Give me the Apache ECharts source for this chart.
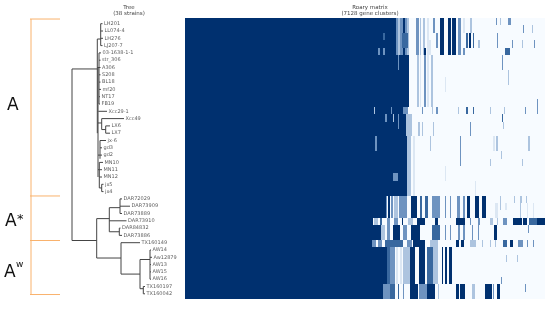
<!DOCTYPE html>
<html><head><meta charset="utf-8">
<style>html,body{margin:0;padding:0;background:#fff}#c{width:550px;height:318px}</style>
<script src="https://cdn.jsdelivr.net/npm/echarts@6/dist/echarts.min.js"></script>
</head><body><div id="c"></div>
<script>
const strains = ['LH201','LL074-4','LH276','LJ207-7','03-1638-1-1','str_306','A306','S208','BL18','mf20','NT17','FB19','Xcc29-1','Xcc49','LX6','LX7','jx-6','gd3','gd2','MN10','MN11','MN12','jx5','jx4','DAR72029','DAR73909','DAR73889','DAR73910','DAR84832','DAR73886','TX160149','AW14','Aw12879','AW13','AW15','AW16','TX160197','TX160042'];
// tree: tip distance and parent-node distance of each strain
const tipDist = [30.5,31,31,30.5,29,28.5,28.5,28.5,28.5,29,28,28,35,52,38,38,34,30,30,31,30,30,31.5,31.5,50,58,50,54.5,48.5,50,68,79,80,79,79,79,73,73];
const tipParent = [28.7,28.7,28.7,28.7,27,27,27,27,27,27,27,27,26.3,29.7,33.7,33.7,28,28,28,27.3,27.3,27.3,29.7,29.7,48,48,48,37.3,47.3,47.3,49,78,78,78,78,78,71.3,71.3];
// inner branches: [row, fromDist, toDist]
const innerH = [[6.2,0,25.3],[29.7,0,24.7],[2.1,25.3,28.7],[6,25.3,27],[13.6,26,29.7],[14.5,29.7,33.7],[18,26,28],[20,26,27.3],[22.5,27.3,29.7],[26.7,24.7,37.3],[25.2,37.3,48],[28.5,37.3,47.3],[32.1,24.7,49],[34.3,49,68],[32.3,68,78],[36.3,68,71.3]];
// inner verticals: [dist, rowFrom, rowTo]
const innerV = [[0,6.2,29.7],[25.3,2.1,15],[26,6,21],[28.7,0,3],[27,4,11],[29.7,13,14.5],[33.7,14,15],[28,16,18.5],[27.3,19,22.5],[29.7,22,23],[24.7,26.7,32.1],[37.3,25.2,28.5],[48,24,26],[47.3,28,29],[49,30,34.3],[68,32.3,36.3],[78,31,35],[71.3,36,37]];
// clade brackets: [rowFrom, rowTo, shade]
const bracketRows = [-0.64,23.6,29.7,37.1];
// Roary matrix
const levels = ['#f7fbff','#dce7f3','#adc4df','#6e93c0','#39689f','#00306f'];
const coreEnd = [78,78,78,78,78,116,116,116,116,116,116,116,100,108,108,108,110,110,112,112,112,112,112,112,48,48,48,8,33,33,5,50,50,50,50,50,38,38];
// stripes: [colFrom, colTo, rowFrom, rowTo, level]
const stripes = [
[78,84,0,5,3],[84,90,0,5,2],[90,100,0,5,3],[100,104,0,5,5],[104,112,0,5,3],[112,118,0,5,2],[95,115,2,4,4],[40,45,2,3,4],[25,30,4,5,3],[40,45,4,5,3],[85,88,5,7,3],
[138,146,0,5,3],[150,154,0,5,2],[160,166,0,5,2],[172,176,0,5,1],[190,194,0,2,3],[198,204,2,4,3],[178,184,3,5,1],[210,222,0,5,5],[233,243,0,5,5],[245,258,0,5,5],[265,272,0,5,3],[280,286,4,5,3],[280,286,0,2,1],[288,294,2,4,4],[300,306,0,2,2],[298,303,2,4,5],[308,312,2,4,4],[325,330,3,4,2],[378,381,0,1,3],[390,393,0,1,2],[415,422,0,1,3],[458,461,1,2,3],[485,488,1,2,2],[380,383,2,4,3],[425,428,3,4,3],[455,458,3,4,2],[491,494,3,4,3],[405,420,4,5,4],[395,398,5,7,3],[415,417,7,9,2],[225,227,8,10,1],
[140,146,5,12,2],[150,154,5,12,1],[163,168,5,12,3],[172,176,5,12,1],[182,190,5,12,2],[162,168,4,5,5],[12,15,12,13,2],[62,65,12,13,3],
[100,115,12,13,3],[155,158,12,13,3],[185,188,12,13,2],[198,204,12,13,3],[265,267,12,13,2],[288,295,12,13,4],[308,312,12,13,4],[360,362,12,13,2],[403,405,12,13,2],[465,467,12,13,3],[502,504,11,13,3],
[45,50,13,14,3],[70,73,13,14,2],[85,88,13,15,3],[395,398,13,14,4],[108,125,13,16,2],[145,150,14,16,2],[155,160,14,16,2],[190,193,14,16,2],[300,303,14,16,3],[398,400,14,15,2],
[15,20,16,18,3],[112,122,16,24,2],[180,183,16,18,2],[270,272,16,20,3],[370,375,16,18,1],[378,383,16,18,2],[475,479,16,18,2],[392,394,18,19,2],[130,136,16,24,1],
[360,362,19,20,2],[455,457,19,20,2],[225,227,20,22,1],[70,85,21,22,3],[315,317,22,24,1],
[48,52,24,27,3],[55,60,24,27,5],[62,70,24,27,3],[72,85,24,27,2],[88,92,24,27,3],[92,110,24,27,3],[122,140,24,27,5],[150,156,24,27,4],[165,175,24,27,4],[185,210,24,27,3],[225,228,24,27,3],[240,243,24,27,3],[262,270,24,27,3],[278,285,24,27,3],[292,300,24,27,5],[315,328,24,27,5],[335,347,24,27,5],[390,392,24,26,2],[432,434,24,25,2],[450,455,24,25,2],[467,470,24,25,2],[375,383,25,27,1],[405,410,25,26,1],[450,453,25,27,2],[470,473,25,27,1],[488,491,25,27,1],
[12,25,27,28,2],[30,35,27,28,4],[50,60,27,28,3],[72,85,27,28,3],[95,100,27,28,5],[115,130,27,28,2],[140,165,27,28,5],[195,205,27,28,5],[258,285,27,28,5],[300,303,27,28,3],[325,330,27,28,3],[360,370,27,28,2],[380,384,27,28,2],[400,410,27,28,3],[430,455,27,28,5],[460,470,27,28,5],[478,500,27,28,4],[500,525,27,28,5],
[33,45,28,30,2],[50,60,28,30,3],[70,90,28,30,5],[100,110,28,30,3],[122,150,28,30,5],[185,210,28,30,4],[225,228,28,30,3],[240,243,28,30,3],[265,270,28,30,3],[280,285,28,30,3],[305,308,28,30,3],[325,328,28,30,3],[372,382,28,30,5],[475,478,28,29,3],
[5,18,30,31,3],[25,35,30,31,3],[45,100,30,31,4],[110,125,30,31,3],[130,165,30,31,5],[180,205,30,31,2],[258,268,30,31,5],[272,282,30,31,5],[300,318,30,31,2],[335,338,30,31,2],[360,363,30,31,2],[375,378,30,31,2],[400,410,30,31,4],[420,430,30,31,5],[445,460,30,31,3],[470,474,30,31,3],[490,493,30,31,3],
[50,60,31,36,4],[60,75,31,36,3],[78,84,31,36,1],[90,96,31,36,1],[100,120,31,36,2],[120,135,31,36,5],[147,165,31,36,5],[170,190,31,36,4],[190,205,31,36,2],[215,220,31,36,5],[225,232,31,36,5],[238,245,31,36,5],[408,410,32,33,2],[442,444,32,33,2],[393,395,35,36,3],
[38,60,36,38,3],[60,75,36,38,4],[85,88,36,38,4],[100,103,36,38,3],[120,145,36,38,5],[147,170,36,38,3],[172,195,36,38,5],[205,208,36,38,2],[258,268,36,38,5],[270,285,36,38,5],[305,315,36,38,2],[345,365,36,38,5],[370,372,36,38,3],[382,390,36,38,5],[465,468,36,37,3]
];

const rects = [[-555,525,0,38,0]]
  .concat(coreEnd.map((e,r)=>[-555,e,r,r+1,5]))
  .concat(stripes);
const segs = [];
strains.forEach((s,i)=>segs.push([tipParent[i],i,tipDist[i],i]));
innerH.forEach(h=>segs.push([h[1],h[0],h[2],h[0]]));
innerV.forEach(v=>segs.push([v[0],v[1],v[0],v[2]]));
const orangeV=[[-41,bracketRows[0],-41,bracketRows[3]]];
const orangeH=bracketRows.map(r=>[-42,r,-12,r]);

const chart = echarts.init(document.getElementById('c'),null,{renderer:'canvas'});
chart.setOption({
 animation:false,
 title:[
  {text:'Tree\n(38 strains)',left:124,top:0,textAlign:'center',textStyle:{fontFamily:'DejaVu Sans',fontSize:5.5,fontWeight:'normal',color:'#444',lineHeight:6}},
  {text:'Roary matrix\n(7128 gene clusters)',left:365,top:0,textAlign:'center',textStyle:{fontFamily:'DejaVu Sans',fontSize:5.5,fontWeight:'normal',color:'#444',lineHeight:6}}
 ],
 grid:[
  {left:185,top:18,width:360,height:281.3},
  {left:30,top:16.4,width:155,height:284.7}
 ],
 xAxis:[
  {type:'value',gridIndex:0,min:-555,max:525,show:false},
  {type:'value',gridIndex:1,min:-42,max:113,show:false}
 ],
 yAxis:[
  {type:'value',gridIndex:0,min:0,max:38,inverse:true,show:false},
  {type:'value',gridIndex:1,min:-1,max:38,inverse:true,show:false}
 ],
 series:[
  {type:'custom',xAxisIndex:0,yAxisIndex:0,data:rects,silent:true,
   renderItem:(p,api)=>{const a=api.coord([api.value(0),api.value(2)]),b=api.coord([api.value(1),api.value(3)]);
    const x=Math.round(a[0]),y=Math.round(a[1]);
    return {type:'rect',shape:{x:x,y:y,width:Math.max(1,Math.round(b[0])-x),height:Math.round(b[1])-y},style:{fill:levels[api.value(4)]}};}},
  {type:'custom',xAxisIndex:1,yAxisIndex:1,data:segs,silent:true,
   renderItem:(p,api)=>{const a=api.coord([api.value(0),api.value(1)]),b=api.coord([api.value(2),api.value(3)]);
    return {type:'line',shape:{x1:a[0],y1:a[1],x2:b[0],y2:b[1]},style:{stroke:'#444',lineWidth:1}};}},
  {type:'custom',xAxisIndex:1,yAxisIndex:1,data:orangeH.concat(orangeV),silent:true,
   renderItem:(p,api)=>{const a=api.coord([api.value(0),api.value(1)]),b=api.coord([api.value(2),api.value(3)]);
    return {type:'line',shape:{x1:a[0],y1:a[1],x2:b[0],y2:b[1]},style:{stroke:'#f9b26d',lineWidth:1}};}},
  {type:'scatter',xAxisIndex:1,yAxisIndex:1,symbolSize:0,silent:true,
   data:strains.map((s,i)=>({name:s,value:[tipDist[i],i]})),
   label:{show:true,position:'right',distance:1.5,formatter:'{b}',fontFamily:'DejaVu Sans',fontSize:5,color:'#333'}}
 ],
 graphic:[
  {type:'text',left:7,top:97,style:{text:'A',fontFamily:'DejaVu Sans',fontSize:17,fill:'#111'}},
  {type:'text',left:5,top:213,style:{text:'A',fontFamily:'DejaVu Sans',fontSize:17,fill:'#111'}},
  {type:'text',left:17,top:213,style:{text:'*',fontFamily:'DejaVu Sans',fontSize:13,fill:'#111'}},
  {type:'text',left:4,top:264,style:{text:'A',fontFamily:'DejaVu Sans',fontSize:17,fill:'#111'}},
  {type:'text',left:16,top:260,style:{text:'w',fontFamily:'DejaVu Sans',fontSize:9,fill:'#111'}}
 ]
});
</script></body></html>
